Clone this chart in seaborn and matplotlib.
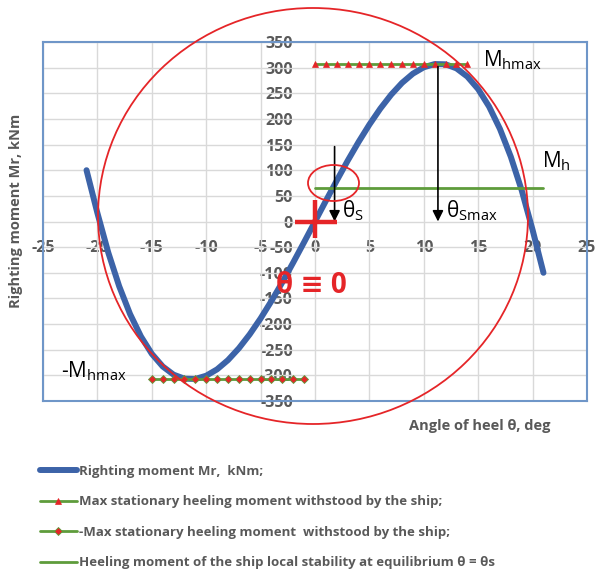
import numpy as np
import pandas as pd
import seaborn as sns
import matplotlib.pyplot as plt
from matplotlib.patches import Ellipse

# Righting moment curve, kNm, against angle of heel, deg
theta_deg = list(range(-21, 22))
righting_moment = [100.0, 16.5, -60.6, -126.1, -180.4, -224.1, -258.0, -282.6,
                   -298.6, -306.5, -307.0, -300.7, -288.3, -270.3, -247.3, -220.0,
                   -189.0, -154.9, -118.4, -79.9, -40.3, 0.0,
                   40.3, 79.9, 118.4, 154.9, 189.0, 220.0, 247.3, 270.3, 288.3,
                   300.7, 307.0, 306.5, 298.6, 282.6, 258.0, 224.1, 180.4, 126.1,
                   60.6, -16.5, -100.0]

# Max stationary heeling moment (positive and negative branches)
theta_hmax = list(range(0, 15))
m_hmax = [308.0] * len(theta_hmax)
theta_neg_hmax = list(range(-15, 0))
m_neg_hmax = [-308.0] * len(theta_neg_hmax)

# Heeling moment at local-stability equilibrium
theta_h = [0, 21]
m_h = [66.0, 66.0]

# Angles marked on the chart
theta_s = 1.8
theta_smax = 11.3

x_ticks = list(range(-25, 30, 5))
y_ticks = list(range(-350, 400, 50))

label_mr = "Righting moment Mr,  kNm;"
label_hmax = "Max stationary heeling moment withstood by the ship;"
label_neg_hmax = "-Max stationary heeling moment  withstood by the ship;"
label_h = "Heeling moment of the ship local stability at equilibrium θ = θs"

BLUE = "#3C63A8"
GREEN = "#5E9C3B"
RED = "#E52528"
GRAY_TXT = "#595959"
FRAME = "#6F96C8"

sns.set_theme(style="white")
plt.rcParams["font.family"] = ["Open Sans", "DejaVu Sans"]
plt.rcParams["mathtext.default"] = "regular"

fig = plt.figure(figsize=(5.95, 5.72), dpi=100)
W, H = 595, 572
ax = fig.add_axes([43 / W, 1 - 401 / H, 544 / W, 359 / H])

df_mr = pd.DataFrame({"theta": theta_deg, "moment": righting_moment})
df_hmax = pd.DataFrame({"theta": theta_hmax, "moment": m_hmax})
df_neg = pd.DataFrame({"theta": theta_neg_hmax, "moment": m_neg_hmax})
df_h = pd.DataFrame({"theta": theta_h, "moment": m_h})

sns.lineplot(data=df_mr, x="theta", y="moment", ax=ax, color=BLUE, lw=4.3,
             solid_capstyle="round", label=label_mr, zorder=3)
sns.lineplot(data=df_hmax, x="theta", y="moment", ax=ax, color=GREEN, lw=2.0,
             marker="^", markersize=4.5, markerfacecolor=RED, markeredgecolor=RED,
             markeredgewidth=0.5, label=label_hmax, zorder=4)
sns.lineplot(data=df_neg, x="theta", y="moment", ax=ax, color=GREEN, lw=2.0,
             marker="D", markersize=4.2, markerfacecolor=RED, markeredgecolor=GREEN,
             markeredgewidth=0.6, label=label_neg_hmax, zorder=4)
sns.lineplot(data=df_h, x="theta", y="moment", ax=ax, color=GREEN, lw=2.0,
             label=label_h, zorder=4)

ax.set_xlim(-25, 25)
ax.set_ylim(-350, 350)
ax.set_xticks(x_ticks)
ax.set_yticks(y_ticks)
ax.grid(True, color="#D9D9D9", lw=1.0)
ax.tick_params(axis="both", length=0, labelbottom=False, labelleft=False)
for sp in ax.spines.values():
    sp.set_visible(True)
    sp.set_color(FRAME)
    sp.set_linewidth(1.5)

tick_font = dict(fontsize=11.5, fontweight="bold", color=GRAY_TXT)

# Axes crossing at the origin carry the tick labels
secx = ax.secondary_xaxis(0.5)
secx.set_alignment("bottom")
secx.set_xticks(x_ticks)
secx.set_xticklabels([str(v) for v in x_ticks], **tick_font)
secx.tick_params(length=0, pad=13)
for sp in secx.spines.values():
    sp.set_visible(False)

secy = ax.secondary_yaxis(0.5)
secy.set_alignment("left")
secy.set_yticks(y_ticks)
secy.set_yticklabels([str(v) for v in y_ticks], **tick_font)
secy.tick_params(length=0, pad=16)
for sp in secy.spines.values():
    sp.set_visible(False)

ax.set_xlabel("Angle of heel θ, deg", fontsize=10.5, fontweight="bold", color=GRAY_TXT)
ax.set_ylabel("Righting moment Mr, kNm", fontsize=10.5, fontweight="bold", color=GRAY_TXT)
ax.xaxis.set_label_coords((480 - 43) / 544, (401 - 419) / 359)
ax.yaxis.set_label_coords((23 - 43) / 544, (401 - 211) / 359)

# Arrows down to the equilibrium angles
arrow = dict(arrowstyle="-|>", color="black", lw=1.2, mutation_scale=16,
             shrinkA=0, shrinkB=0)
ax.annotate("", xy=(theta_s, 0), xytext=(theta_s, 146), arrowprops=arrow, zorder=6)
ax.annotate("", xy=(theta_smax, 0), xytext=(theta_smax, 302), arrowprops=arrow, zorder=6)

lab = dict(color="black", fontsize=15, va="baseline", ha="left", zorder=7)
ax.text(2.5, 8, "θ$_{S}$", **lab)
ax.text(12.0, 8, "θ$_{Smax}$", **lab)
ax.text(15.4, 302, "M$_{hmax}$", **lab)
ax.text(20.9, 106, "M$_{h}$", **lab)
ax.text(-23.3, -304, "-M$_{hmax}$", **lab)

# Origin marker and the zero-angle note
ax.plot([-1.8, 2.0], [0, 0], color=RED, lw=3.2, solid_capstyle="butt", zorder=6)
ax.plot([0, 0], [-33, 42], color=RED, lw=3.2, solid_capstyle="butt", zorder=6)
ax.text(-0.3, -124, "θ ≡ 0", color=RED, fontsize=20, fontweight="bold",
        ha="center", va="center", zorder=7)

# Highlight outlines
fig.add_artist(Ellipse((313 / W, 1 - 216 / H), 430 / W, 416 / H,
                       fill=False, edgecolor=RED, lw=1.3, zorder=8))
fig.add_artist(Ellipse((333.5 / W, 1 - 183 / H), 51 / W, 36 / H,
                       fill=False, edgecolor=RED, lw=1.3, zorder=8))

handles, labels = ax.get_legend_handles_labels()
ax.get_legend().remove()
fig.legend(handles, labels, loc="upper left", bbox_to_anchor=(40 / W, 1 - 465 / H),
           frameon=False, borderpad=0, borderaxespad=0, handlelength=2.8,
           handletextpad=0.15, labelspacing=1.32,
           prop=dict(size=9.5, weight="bold"), labelcolor=GRAY_TXT)

fig.savefig("out.png", dpi=100, facecolor="white")
